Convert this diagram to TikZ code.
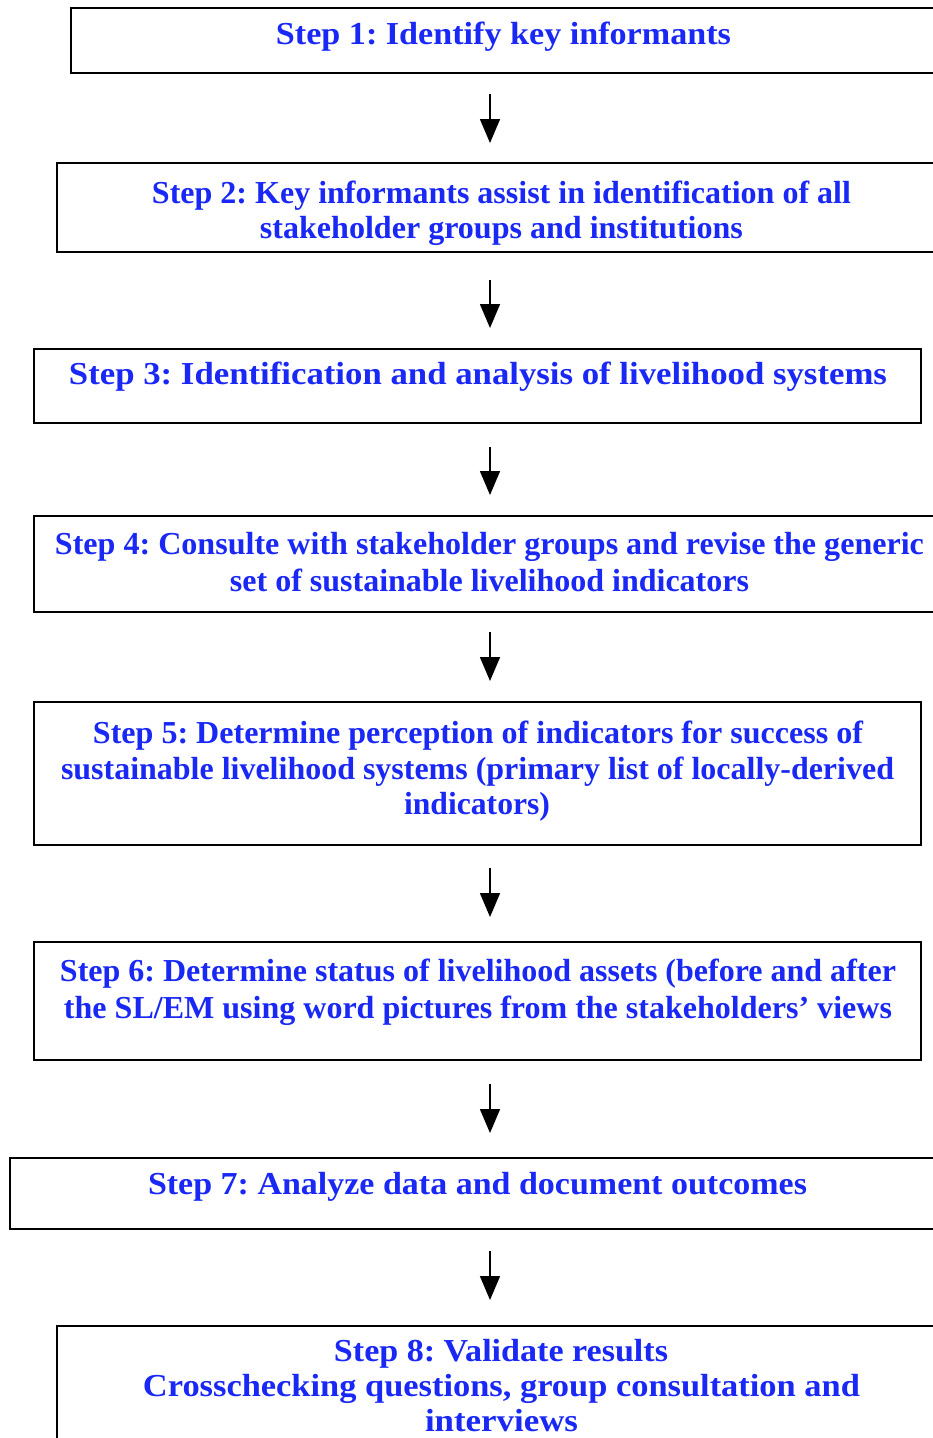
\documentclass[tikz,border=0pt]{standalone}
\usepackage{fontspec}
\setmainfont{Liberation Serif}
\usepackage{graphicx}
\usetikzlibrary{arrows.meta}
\frenchspacing
\definecolor{stepblue}{RGB}{25,40,245}
\newcommand{\fl}[2]{\resizebox{#1pt}{\height}{#2}}
\tikzset{
  stepbox/.style={draw=black, line width=1.6pt, rectangle, inner sep=0pt, fill=none},
  steptext/.style={text=stepblue, inner sep=0pt, anchor=base, font=\bfseries\fontsize{32}{36}\selectfont},
  flow/.style={line width=1.6pt, -{Triangle[width=20pt,length=24pt]}}
}
\begin{document}
\begin{tikzpicture}[x=1pt,y=-1pt]
\useasboundingbox (0,0) rectangle (933,1438);
\fill[white] (0,0) rectangle (933,1438);
\clip (0,0) rectangle (933,1438);
% boxes
\node[stepbox, minimum width=889pt, minimum height=65pt] (b1) at (515.5,40.5) {};
\node[stepbox, minimum width=903pt, minimum height=89pt] (b2) at (508.5,207.5) {};
\node[stepbox, minimum width=887pt, minimum height=74pt] (b3) at (477.5,386) {};
\node[stepbox, minimum width=926pt, minimum height=96pt] (b4) at (497,564) {};
\node[stepbox, minimum width=887pt, minimum height=143pt] (b5) at (477.5,773.5) {};
\node[stepbox, minimum width=887pt, minimum height=118pt] (b6) at (477.5,1001) {};
\node[stepbox, minimum width=950pt, minimum height=71pt] (b7) at (485,1193.5) {};
\node[stepbox, minimum width=903pt, minimum height=134pt] (b8) at (508.5,1393) {};
% texts
\node[steptext] (t1) at (503.5,44) {\fl{455}{Step 1: Identify key informants}};
\node[steptext] (t2a) at (501.5,203) {\fl{699}{Step 2: Key informants assist in identification of all}};
\node[steptext] (t2b) at (501.5,238) {\fl{483}{stakeholder groups and institutions}};
\node[steptext] (t3) at (478,384) {\fl{818}{Step 3: Identification and analysis of livelihood systems}};
\node[steptext] (t4a) at (489.5,554) {\fl{869}{Step 4: Consulte with stakeholder groups and revise the generic}};
\node[steptext] (t4b) at (489.5,591) {\fl{519}{set of sustainable livelihood indicators}};
\node[steptext] (t5a) at (478,743) {\fl{770}{Step 5: Determine perception of indicators for success of}};
\node[steptext] (t5b) at (477.5,779) {\fl{833}{sustainable livelihood systems (primary list of locally-derived}};
\node[steptext] (t5c) at (477,814) {\fl{146}{indicators)}};
\node[steptext] (t6a) at (478,981) {\fl{836}{Step 6: Determine status of livelihood assets (before and after}};
\node[steptext] (t6b) at (478,1018) {\fl{828}{the SL/EM using word pictures from the stakeholders’ views}};
\node[steptext] (t7) at (477.5,1194) {\fl{659}{Step 7: Analyze data and document outcomes}};
\node[steptext] (t8a) at (501,1361) {\fl{334}{Step 8: Validate results}};
\node[steptext] (t8b) at (501.5,1396) {\fl{717}{Crosschecking questions, group consultation and}};
\node[steptext] (t8c) at (501.5,1431) {\fl{153}{interviews}};
% arrows
\coordinate (a1s) at (490,94);   \coordinate (a1e) at (490,143);
\coordinate (a2s) at (490,280);  \coordinate (a2e) at (490,328);
\coordinate (a3s) at (490,447);  \coordinate (a3e) at (490,495);
\coordinate (a4s) at (490,632);  \coordinate (a4e) at (490,681);
\coordinate (a5s) at (490,868);  \coordinate (a5e) at (490,917);
\coordinate (a6s) at (490,1084); \coordinate (a6e) at (490,1133);
\coordinate (a7s) at (490,1251); \coordinate (a7e) at (490,1300);
\foreach \i in {1,...,7} { \draw[flow] (a\i s) -- (a\i e); }
\end{tikzpicture}
\end{document}
